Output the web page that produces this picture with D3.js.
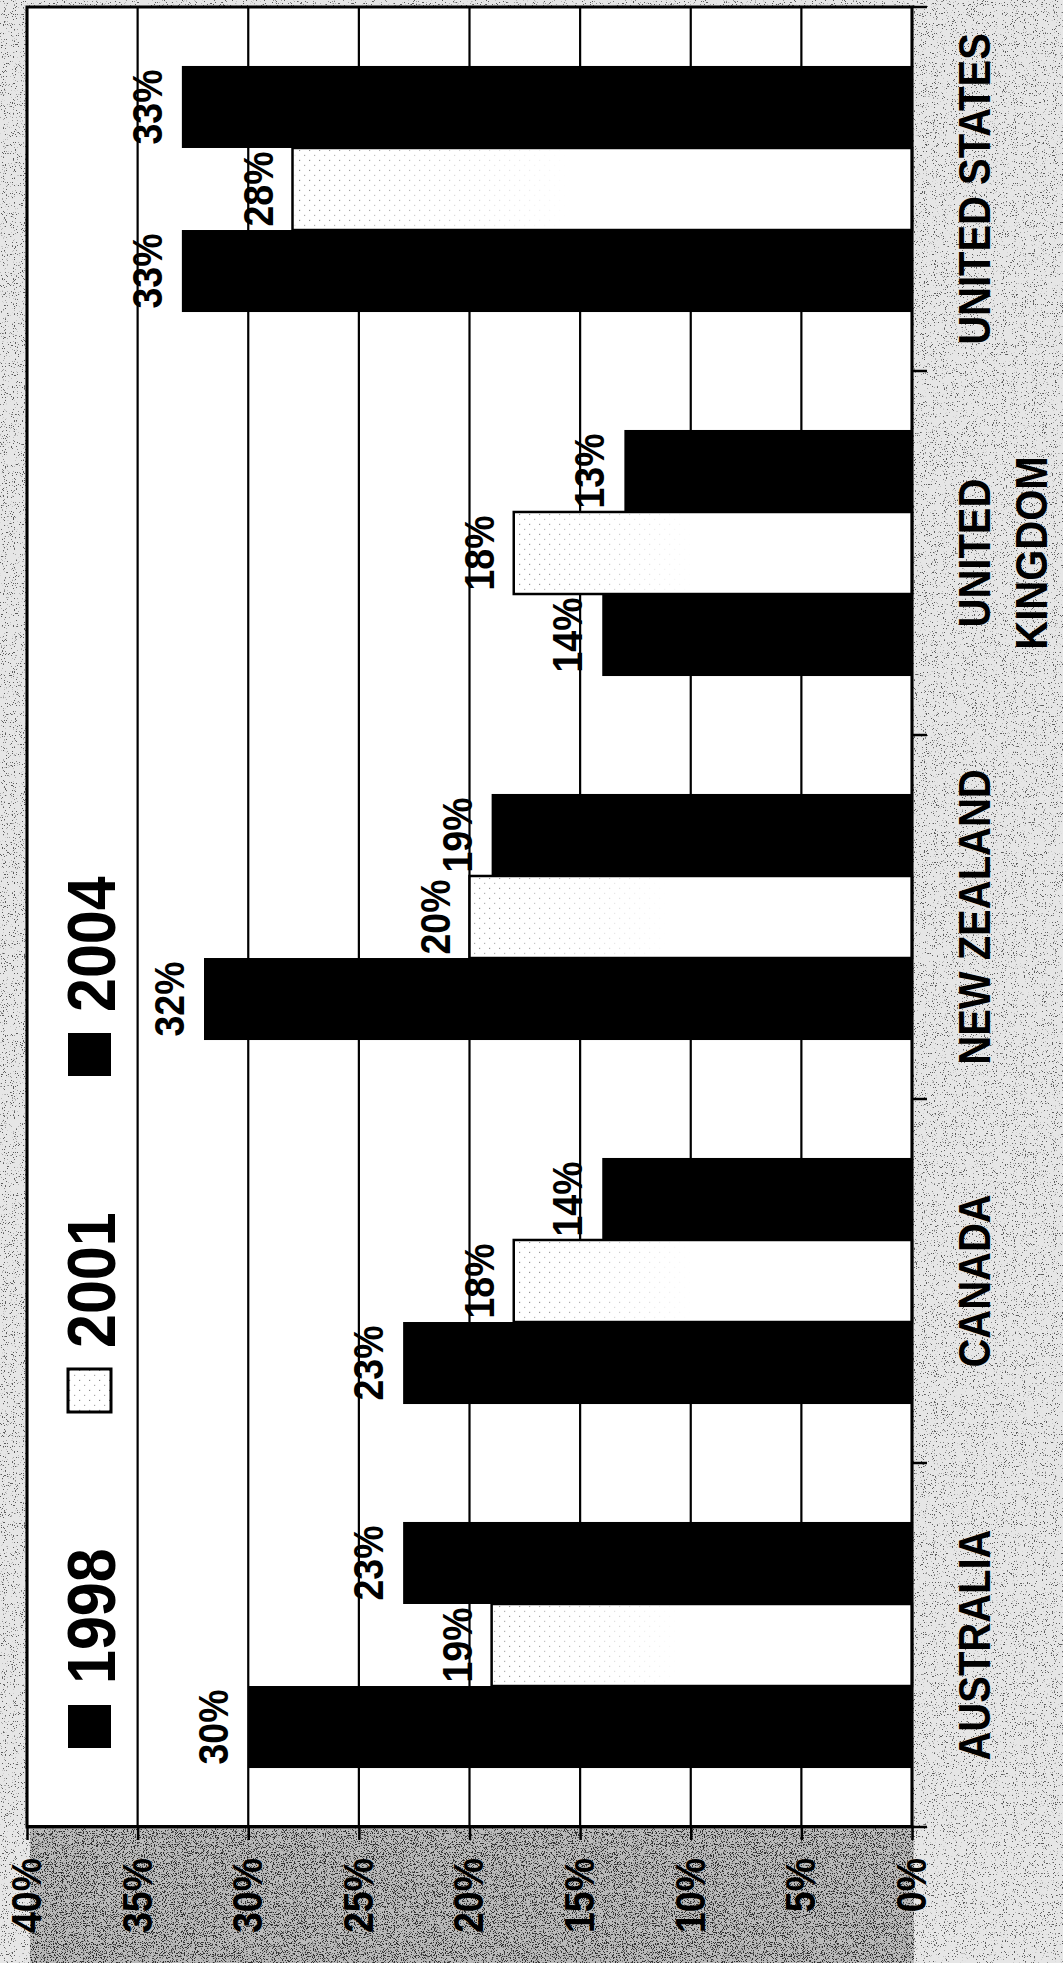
<!DOCTYPE html>
<html>
<head>
<meta charset="utf-8">
<script src="https://cdn.jsdelivr.net/npm/d3@7"></script>
<style>
  html, body { margin: 0; padding: 0; background: #fff; }
  svg { display: block; }
</style>
</head>
<body>
<script>
'use strict';

// chart data (the original is a column chart turned 90 degrees)
const categories = ['AUSTRALIA', 'CANADA', 'NEW ZEALAND', 'UNITED\nKINGDOM', 'UNITED STATES'];
const years = ['1998', '2001', '2004'];
const values_1998 = [30, 23, 32, 14, 33];
const values_2001 = [19, 18, 20, 18, 28];
const values_2004 = [23, 14, 19, 13, 33];
const tick_values = [0, 5, 10, 15, 20, 25, 30, 35, 40];

const series = [values_1998, values_2001, values_2004];
const fill_of = {'1998': '#000', '2001': 'url(#dots)', '2004': '#000'};
const font = 'Liberation Sans, Arial, Helvetica, sans-serif';
const stretch = 1.12; // glyphs in the scan are a bit taller than normal

const svg_width = 1063;
const svg_height = 1963;
const svg = d3.select('body').append('svg')
  .attr('width', svg_width)
  .attr('height', svg_height);

// plot box on the page
const plot_left = 27;
const plot_top = 7;
const chart_width = 1820;  // unrotated width  (category direction)
const chart_height = 885;  // unrotated height (value direction)

//speckled scan background
const defs = svg.append('defs');
const speckle = (id, freq, k, b, seed) => {
  const f = defs.append('filter').attr('id', id)
    .attr('x', 0).attr('y', 0).attr('width', 1).attr('height', 1);
  f.append('feTurbulence').attr('type', 'fractalNoise')
    .attr('baseFrequency', freq).attr('numOctaves', 2).attr('seed', seed);
  f.append('feColorMatrix').attr('type', 'matrix')
    .attr('values', `0 0 0 0 0  0 0 0 0 0  0 0 0 0 0  ${k} 0 0 0 ${b}`);
};
speckle('speck_light', 0.9, 14, -9.0, 3);
speckle('speck_dark', 0.9, 12, -6.5, 7);

const dots = defs.append('pattern').attr('id', 'dots')
  .attr('patternUnits', 'userSpaceOnUse').attr('width', 10).attr('height', 10);
dots.append('rect').attr('width', 10).attr('height', 10).attr('fill', '#fff');
dots.append('rect').attr('x', 1).attr('y', 2).attr('width', 1.2).attr('height', 1.2).attr('fill', '#888');
dots.append('rect').attr('x', 6).attr('y', 7).attr('width', 1.2).attr('height', 1.2).attr('fill', '#aaa');

const fade = defs.append('linearGradient').attr('id', 'fade')
  .attr('x1', 0).attr('y1', 0).attr('x2', 0).attr('y2', 1);
fade.append('stop').attr('offset', 0).attr('stop-color', '#fff');
fade.append('stop').attr('offset', 0.45).attr('stop-color', '#000');
defs.append('mask').attr('id', 'fade_mask')
  .attr('maskContentUnits', 'objectBoundingBox')
  .append('rect').attr('width', 1).attr('height', 1).attr('fill', 'url(#fade)');

svg.append('rect').attr('width', svg_width).attr('height', svg_height).attr('fill', '#e6e6e6');
svg.append('rect').attr('width', svg_width).attr('height', svg_height)
  .attr('filter', 'url(#speck_light)').attr('opacity', 0.6);

// darker band under the value axis
const band_y = plot_top + chart_width + 2;
svg.append('rect').attr('x', plot_left + 3).attr('y', band_y)
  .attr('width', chart_height - 1).attr('height', svg_height - band_y).attr('fill', '#bababa');
svg.append('rect').attr('x', plot_left + 3).attr('y', band_y)
  .attr('width', chart_height - 1).attr('height', svg_height - band_y)
  .attr('filter', 'url(#speck_dark)').attr('opacity', 0.75);

// everything below is drawn upright, then turned
const chart_g = svg.append('g')
  .attr('transform', `translate(${plot_left}, ${plot_top + chart_width}) rotate(-90)`);

//define scales
const outer_scale = d3.scaleBand()
  .domain(categories)
  .range([0, chart_width])
  .paddingInner(0.324)
  .paddingOuter(0.162);

const inner_scale = d3.scaleBand()
  .domain(years)
  .range([0, outer_scale.bandwidth()]);

const y_scale = d3.scaleLinear()
  .domain([0, 40])
  .range([chart_height, 0]);

chart_g.append('rect')
  .attr('width', chart_width).attr('height', chart_height).attr('fill', '#fff');

//grid lines
chart_g.append('g').selectAll('line').data(tick_values).enter()
  .append('line')
    .attr('x1', 0).attr('x2', chart_width)
    .attr('y1', d => y_scale(d)).attr('y2', d => y_scale(d))
    .attr('stroke', '#000').attr('stroke-width', 2.2);

const rows = categories.map((c, i) => ({
  category: c,
  bars: years.map((yr, j) => ({year: yr, value: series[j][i]}))
}));

//draw bars
const groups = chart_g.append('g')
  .selectAll('g').data(rows).enter()
  .append('g')
    .attr('transform', d => `translate(${outer_scale(d.category)},0)`);

groups.selectAll('rect').data(d => d.bars).enter()
  .append('rect')
    .attr('x', d => inner_scale(d.year))
    .attr('y', d => y_scale(d.value))
    .attr('width', inner_scale.bandwidth())
    .attr('height', d => chart_height - y_scale(d.value))
    .attr('fill', d => d.year === '2001' ? '#fff' : '#000')
    .attr('stroke', '#000')
    .attr('stroke-width', d => d.year === '2001' ? 2.5 : 0);

// faint dots near the end of the 2001 bars
groups.selectAll('rect.dots').data(d => d.bars.filter(b => b.year === '2001')).enter()
  .append('rect')
    .attr('class', 'dots')
    .attr('x', d => inner_scale(d.year) + 2)
    .attr('y', d => y_scale(d.value) + 2)
    .attr('width', inner_scale.bandwidth() - 4)
    .attr('height', d => chart_height - y_scale(d.value) - 4)
    .attr('fill', 'url(#dots)')
    .attr('mask', 'url(#fade_mask)');

//value labels
groups.selectAll('g.label').data(d => d.bars).enter()
  .append('g')
    .attr('class', 'label')
    .attr('transform', d => `translate(${inner_scale(d.year) + inner_scale.bandwidth() / 2},${y_scale(d.value) - 20}) scale(1,${stretch})`)
  .append('text')
    .attr('text-anchor', 'middle')
    .attr('font-family', font)
    .attr('font-weight', 'bold')
    .attr('font-size', 37.5)
    .text(d => d.value + '%');

//plot border
chart_g.append('rect')
  .attr('width', chart_width).attr('height', chart_height)
  .attr('fill', 'none').attr('stroke', '#000').attr('stroke-width', 3);

//value axis
const y_axis = chart_g.append('g')
  .call(d3.axisLeft(y_scale)
    .tickValues(tick_values)
    .tickSize(13)
    .tickSizeOuter(0)
    .tickPadding(18)
    .tickFormat(d => d + '%'));
y_axis.select('.domain').attr('stroke-width', 3);
y_axis.selectAll('.tick line').attr('stroke-width', 2.5);
y_axis.selectAll('.tick text')
  .attr('font-family', font)
  .attr('font-weight', 'bold')
  .attr('font-size', 37.5)
  .attr('fill', '#000')
  .attr('transform', `scale(1,${stretch})`);

//category axis: ticks between the groups
const x_axis = chart_g.append('g').attr('transform', `translate(0,${chart_height})`);
x_axis.selectAll('line')
  .data(d3.range(categories.length + 1).map(i => i * outer_scale.step()))
  .enter().append('line')
    .attr('x1', d => d).attr('x2', d => d)
    .attr('y1', 0).attr('y2', 15)
    .attr('stroke', '#000').attr('stroke-width', 2.5);

const cat_labels = x_axis.selectAll('g.cat').data(categories).enter()
  .append('g')
    .attr('class', 'cat')
    .attr('transform', d => `translate(${outer_scale(d) + outer_scale.bandwidth() / 2},78) scale(1,${stretch})`);
cat_labels.selectAll('text').data(d => d.split('\n')).enter()
  .append('text')
    .attr('y', (d, i) => i * 51)
    .attr('text-anchor', 'middle')
    .attr('font-family', font)
    .attr('font-weight', 'bold')
    .attr('font-size', 40)
    .text(d => d);

//legend across the top of the upright chart
const legend = chart_g.append('g')
  .selectAll('g').data(years).enter()
  .append('g')
    .attr('transform', (d, i) => `translate(${79 + i * 336},0)`);

legend.append('rect')
  .attr('y', 41)
  .attr('width', 43).attr('height', 43)
  .attr('fill', d => fill_of[d])
  .attr('stroke', '#000')
  .attr('stroke-width', d => d === '2001' ? 3 : 0);

legend.append('g')
  .attr('transform', `translate(64,88) scale(1,${stretch})`)
  .append('text')
    .attr('font-family', font)
    .attr('font-weight', 'bold')
    .attr('font-size', 61)
    .text(d => d);
</script>
</body>
</html>
